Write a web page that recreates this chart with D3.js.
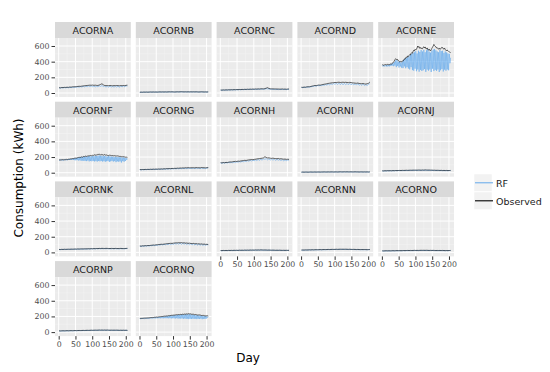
<!DOCTYPE html>
<html>
<head>
<meta charset="utf-8">
<script src="https://cdn.jsdelivr.net/npm/d3@7"></script>
<style>
  body { margin: 0; background: #fff; }
  svg { font-family: "DejaVu Sans", sans-serif; }
</style>
</head>
<body>
<div id="chart"></div>
<script>
// values; most panels one point every 4 days (day 1, 5, ... 205),
// the noisier E, F and Q panels one point every 2 days (day 1, 3, ... 205)
const obsA = [68,66,70,69,72,71,74,72,76,75, 78,80,79,82,84,86,85,88,90,93, 94,96,98,100,99,101,98,100,97,96, 102,110,118,104,96,94,95,93,96,94, 92,95,93,96,94,92,95,93,96,94, 98,100]
const rfA  = [66,62,68,64,70,65,71,66,73,68, 75,70,77,72,80,74,82,76,86,78, 88,80,91,82,90,80,88,78,86,80, 92,84,96,82,88,76,86,74,88,76, 86,74,88,76,86,74,88,78,90,80, 92,88]
const obsB = [10,11,10,12,11,12,11,12,13,12, 13,12,13,12,13,14,13,14,13,14, 13,14,15,14,15,14,13,14,15,14, 15,16,15,14,15,14,15,14,15,14, 15,14,15,14,13,14,15,14,13,14, 13,14]
const rfB  = [9,10,9,11,10,11,10,11,12,11, 12,11,12,11,12,13,12,13,12,13, 12,13,14,13,14,13,12,13,14,13, 14,15,14,13,14,13,14,13,14,13, 14,13,14,13,12,13,14,13,12,13, 12,13]
const obsC = [38,37,39,38,40,39,41,40,42,41, 43,42,44,43,45,44,46,45,47,46, 48,47,49,48,50,49,51,50,52,51, 53,54,52,56,62,68,58,54,52,53, 51,52,50,51,49,50,51,49,50,48, 50,52]
const rfC  = [37,34,38,35,39,36,40,37,41,38, 42,39,43,40,44,41,45,42,46,43, 47,44,48,45,48,44,49,45,50,46, 51,47,50,48,56,52,52,46,50,44, 49,44,48,43,47,43,48,44,48,43, 47,46]
const obsD = [73,72,75,74,78,80,79,84,88,92, 96,94,98,102,100,105,108,112,115,118, 122,125,128,130,132,135,133,136,138,134, 136,138,135,137,134,132,136,133,130,128, 126,124,127,122,120,118,122,116,114,118, 124,140]
const rfD  = [72,68,74,70,76,74,78,78,84,84, 92,86,96,92,96,94,102,98,108,100, 114,104,118,108,122,110,124,108,126,106, 126,104,124,106,122,104,124,104,120,102, 118,100,120,98,112,96,114,94,106,96, 110,120]
const obsE = [362,358,355,360,357,363,359,361,365,360, 366,362,368,372,370,378,385,395,410,425, 438,430,422,428,412,405,398,402,395,400, 410,405,420,435,430,448,460,452,472,465,
  480,490,485,505,515,508,530,545,535,557, 548,560,575,600,585,592,570,580,565,572, 565,582,590,575,588,570,560,575,555,548, 560,545,536,552,570,585,600,620,605,595,
  590,575,578,565,560,572,557,565,570,585, 578,565,560,572,555,545,536,548,540,530, 525,520,515]
const rfE  = [352,340,356,338,350,345,358,336,354,342, 360,340,366,345,372,350,380,342,395,350, 415,330,420,345,398,325,405,338,390,322, 400,318,420,340,438,316,445,330,455,312,
  470,300,488,330,500,292,512,285,520,310, 535,278,505,300,540,272,525,295,548,282, 530,290,552,305,520,270,545,298,560,285, 528,300,515,268,540,310,555,280,562,295,
  545,282,530,300,520,268,548,290,535,305, 540,275,512,298,530,285,518,300,505,290, 500,380,450]
const obsF = [165,163,162,166,164,167,163,166,165,168, 166,170,168,167,172,170,174,176,175,178, 180,176,182,185,183,188,186,190,192,195, 193,198,196,200,203,198,205,208,206,210,
  212,208,214,210,215,218,213,220,216,218, 222,218,225,228,222,230,226,232,228,234, 236,230,228,233,226,230,224,228,232,226, 222,226,220,224,218,222,226,220,217,221,
  218,215,220,216,214,218,212,215,210,212, 208,211,206,204,208,202,205,200,202,198, 200,197,196]
const rfF  = [162,158,164,157,163,160,165,158,166,161, 168,160,170,162,172,163,174,162,176,164, 178,162,182,160,185,158,188,160,190,156, 195,158,198,152,200,155,205,150,202,152,
  208,148,205,155,210,145,212,150,206,146, 214,150,210,144,218,148,212,142,216,150, 220,145,214,150,218,142,210,148,215,140, 210,146,205,150,212,138,208,145,204,150,
  206,142,200,148,204,135,198,145,202,140, 196,145,198,130,192,148,195,140,190,150, 188,165,180]
const obsG = [40,39,41,40,42,41,43,42,44,43, 45,44,46,45,47,46,48,47,50,49, 52,51,53,52,55,54,56,55,58,57, 60,59,61,60,63,62,64,63,62,64, 63,62,65,64,63,62,66,64,63,62, 64,65]
const rfG  = [39,36,40,37,41,38,42,39,43,40, 44,40,45,41,46,42,47,43,48,44, 50,45,51,46,52,47,53,48,55,49, 56,50,57,51,58,52,59,53,58,52, 59,52,60,53,59,52,60,53,58,52, 60,62]
const obsH = [128,125,130,127,132,130,134,138,136,140, 142,145,143,148,146,150,152,155,158,156, 160,163,165,168,166,170,172,175,178,180, 183,185,190,204,195,188,190,185,183,186, 182,180,178,182,176,178,175,172,174,170, 172,170]
const rfH  = [126,120,128,122,130,124,132,126,134,128, 138,130,140,134,142,136,146,140,150,142, 154,146,158,150,160,152,164,156,168,158, 172,160,178,170,180,164,178,162,174,160, 172,158,170,160,166,156,166,152,164,154, 162,160]
const obsI = [7,8,7,8,8,7,8,9,8,8, 9,8,9,9,8,9,9,10,9,9, 10,9,10,10,9,10,10,9,10,11, 10,10,11,10,11,10,10,11,10,10, 11,10,10,9,10,10,9,10,9,10, 9,10]
const rfI  = [6,7,6,7,7,6,7,8,7,7, 8,7,8,8,7,8,8,9,8,8, 9,8,9,9,8,9,9,8,9,10, 9,9,10,9,10,9,9,10,9,9, 10,9,9,8,9,9,8,9,8,9, 8,9]
const obsJ = [24,23,25,24,26,25,26,25,27,26, 28,27,28,29,28,30,29,30,31,30, 31,32,31,33,32,33,32,34,33,32, 34,33,35,34,33,34,32,33,31,32, 30,31,30,29,30,28,29,28,29,27, 28,29]
const rfJ  = [23,21,24,22,25,23,25,23,26,24, 27,25,27,26,27,27,28,27,29,27, 30,28,30,29,31,29,31,29,32,29, 32,29,33,30,31,29,31,28,30,28, 29,27,29,26,29,25,28,25,27,25, 27,27]
const obsK = [38,37,39,38,40,39,40,41,40,42, 41,42,43,42,44,43,44,45,44,46, 45,46,47,46,48,47,49,48,50,49, 51,50,52,51,50,52,51,50,49,51, 50,49,51,50,49,50,51,50,49,50, 51,52]
const rfK  = [37,35,38,36,39,37,39,38,39,39, 40,39,42,39,43,40,43,41,43,42, 44,42,46,42,47,43,48,44,49,45, 50,45,50,46,49,46,50,45,48,45, 49,44,50,45,48,44,50,45,48,45, 50,50]
const obsL = [82,80,84,83,86,85,88,87,90,92, 94,93,96,98,100,102,104,103,106,108, 110,112,114,116,115,118,120,122,121,124, 122,125,120,123,118,120,116,118,114,112, 115,110,112,108,110,106,108,104,106,102, 104,100]
const rfL  = [80,76,82,78,84,80,86,82,88,84, 92,86,94,88,98,92,102,94,104,96, 108,98,112,100,112,102,116,104,118,104, 120,102,118,104,116,100,114,98,112,96, 110,94,108,92,106,90,104,88,102,88, 100,96]
const obsM = [24,23,25,24,25,24,26,25,26,25, 27,26,27,26,28,27,28,27,29,28, 29,28,30,29,30,29,31,30,31,30, 32,31,30,31,30,29,30,29,28,29, 28,27,28,27,28,27,26,27,26,27, 26,27]
const rfM  = [23,21,24,22,24,22,25,23,25,23, 26,24,26,24,27,25,27,25,28,26, 28,26,29,27,29,27,30,27,30,28, 31,28,29,28,29,27,29,27,27,27, 27,25,27,25,27,25,25,25,25,25, 25,26]
const obsN = [30,31,30,32,31,32,33,32,34,33, 34,35,34,35,36,35,36,37,36,37, 38,37,38,39,38,39,40,39,40,41, 40,41,40,41,40,39,40,39,38,39, 38,37,38,37,36,37,36,37,36,35, 36,37]
const rfN  = [29,28,29,29,30,29,32,30,33,30, 33,32,33,32,35,32,35,34,35,34, 37,34,37,36,37,36,39,36,39,37, 39,37,39,37,39,36,39,36,37,36, 37,34,37,34,35,34,35,34,35,33, 35,36]
const obsO = [20,19,20,21,20,21,20,21,22,21, 22,23,22,23,22,23,24,23,24,25, 24,25,24,25,26,25,26,25,26,27, 26,27,26,27,26,25,26,25,26,25, 24,25,24,25,24,25,24,23,24,23, 24,25]
const rfO  = [19,17,19,19,19,19,19,19,21,19, 21,21,21,21,21,21,23,21,23,22, 23,22,23,22,25,22,25,22,25,24, 25,24,25,24,25,23,25,23,25,23, 23,22,23,22,23,22,23,21,23,21, 23,24]
const obsP = [16,15,16,17,16,17,18,17,18,19, 18,19,20,19,20,21,20,21,22,21, 22,23,22,23,24,23,24,25,24,25, 26,25,26,25,26,25,26,25,24,25, 24,25,24,25,24,23,24,23,24,23, 24,22]
const rfP  = [15,13,15,15,15,15,17,15,17,17, 17,17,19,17,19,19,19,19,21,19, 21,21,21,21,23,21,23,22,23,22, 25,22,25,22,25,22,25,22,23,22, 23,22,23,22,23,21,23,21,23,21, 23,21]
const obsQ = [176,175,174,177,176,178,177,179,178,180, 179,181,180,182,183,181,184,186,185,187, 186,188,190,189,191,192,190,193,194,196, 195,197,198,200,199,201,202,204,203,205,
  206,205,208,210,209,211,212,214,213,215, 216,218,217,219,220,222,221,223,224,222, 225,226,224,227,228,226,229,230,228,231, 232,230,233,235,232,230,234,228,230,226,
  228,224,222,225,220,223,218,221,216,219, 215,218,212,214,210,213,208,211,207,209, 206,208,205]
const rfQ  = [174,170,175,171,175,172,176,171,177,173, 178,172,179,173,181,174,182,175,183,174, 185,176,187,175,189,177,188,176,191,178, 193,176,195,178,197,176,199,178,200,177,
  203,178,205,176,207,178,209,175,210,177, 212,176,214,174,216,178,217,172,219,175, 220,172,222,175,223,170,224,174,225,168, 226,172,228,166,225,170,226,168,222,172,
  220,168,218,172,215,166,214,170,212,168, 210,172,208,165,206,170,205,168,203,172, 200,185,196]

const panelNames = ["ACORNA","ACORNB","ACORNC","ACORND","ACORNE","ACORNF","ACORNG","ACORNH","ACORNI",
  "ACORNJ","ACORNK","ACORNL","ACORNM","ACORNN","ACORNO","ACORNP","ACORNQ"]
const observed = [obsA,obsB,obsC,obsD,obsE,obsF,obsG,obsH,obsI,obsJ,obsK,obsL,obsM,obsN,obsO,obsP,obsQ]
const predicted = [rfA,rfB,rfC,rfD,rfE,rfF,rfG,rfH,rfI,rfJ,rfK,rfL,rfM,rfN,rfO,rfP,rfQ]
const seriesNames = ["RF", "Observed"]
const xTicks = [0, 50, 100, 150, 200]
const xMinor = [25, 75, 125, 175]
const yTicks = [0, 200, 400, 600]
const yMinor = [100, 300, 500]
const firstDay = 1
const lastDay = 205

const colors = { RF: "#63a9ec", Observed: "#000000" }

// layout
const dims = {
  width: 550, height: 372,
  left: 55, top: 22,
  colStep: 80.8, rowStep: 79.7,
  panelW: 75.8, stripH: 16, bodyH: 59,
  ncol: 5,
}

const svg = d3.select("#chart").append("svg")
  .attr("width", dims.width)
  .attr("height", dims.height)

const xScale = d3.scaleLinear().domain([-11, 215]).range([0, dims.panelW])
const yScale = d3.scaleLinear().domain([-51, 702]).range([dims.bodyH, 0])

svg.append("defs").append("clipPath").attr("id", "body-clip")
  .append("rect").attr("width", dims.panelW).attr("height", dims.bodyH)

// day of point i in an array of n evenly spaced readings
const dayOf = (i, n) => firstDay + i * (lastDay - firstDay) / (n - 1)
const linePath = vals => d3.line()
  .x((d, i) => xScale(dayOf(i, vals.length)))
  .y(d => yScale(d))(vals)

panelNames.forEach((name, i) => {
  const col = i % dims.ncol
  const row = Math.floor(i / dims.ncol)
  const g = svg.append("g")
    .attr("transform", `translate(${dims.left + col * dims.colStep},${dims.top + row * dims.rowStep})`)

  // strip
  g.append("rect").attr("width", dims.panelW).attr("height", dims.stripH).attr("fill", "#d9d9d9")
  g.append("text")
    .attr("x", dims.panelW / 2).attr("y", dims.stripH / 2 + 0.5)
    .attr("text-anchor", "middle").attr("dominant-baseline", "central")
    .attr("fill", "#1a1a1a").style("font-size", "9.5px")
    .text(name)

  const body = g.append("g").attr("transform", `translate(0,${dims.stripH})`)
  body.append("rect").attr("width", dims.panelW).attr("height", dims.bodyH).attr("fill", "#ebebeb")

  // grid
  xMinor.forEach(t => body.append("line")
    .attr("x1", xScale(t)).attr("x2", xScale(t)).attr("y1", 0).attr("y2", dims.bodyH)
    .attr("stroke", "#f5f5f5").attr("stroke-width", 0.5))
  yMinor.forEach(t => body.append("line")
    .attr("y1", yScale(t)).attr("y2", yScale(t)).attr("x1", 0).attr("x2", dims.panelW)
    .attr("stroke", "#f5f5f5").attr("stroke-width", 0.5))
  xTicks.forEach(t => body.append("line")
    .attr("x1", xScale(t)).attr("x2", xScale(t)).attr("y1", 0).attr("y2", dims.bodyH)
    .attr("stroke", "#fff").attr("stroke-width", 1))
  yTicks.forEach(t => body.append("line")
    .attr("y1", yScale(t)).attr("y2", yScale(t)).attr("x1", 0).attr("x2", dims.panelW)
    .attr("stroke", "#fff").attr("stroke-width", 1))

  const lines = body.append("g").attr("clip-path", "url(#body-clip)")
  lines.append("path")
    .attr("d", linePath(predicted[i]))
    .attr("fill", "none").attr("stroke", colors.RF).attr("stroke-width", 0.6)
  lines.append("path")
    .attr("d", linePath(observed[i]))
    .attr("fill", "none").attr("stroke", colors.Observed).attr("stroke-width", 0.6)

  // axes
  if (col === 0) {
    const yAxis = body.append("g")
      .call(d3.axisLeft(yScale).tickValues(yTicks).tickSize(3.5).tickPadding(2))
    yAxis.select(".domain").remove()
    yAxis.selectAll("line").attr("stroke", "#333")
    yAxis.selectAll("text").attr("fill", "#4d4d4d").style("font-size", "7.9px")
      .style("font-family", "DejaVu Sans")
  }
  if (i + dims.ncol >= panelNames.length) {
    const xAxis = body.append("g")
      .attr("transform", `translate(0,${dims.bodyH})`)
      .call(d3.axisBottom(xScale).tickValues(xTicks).tickSize(3.5).tickPadding(1.5))
    xAxis.select(".domain").remove()
    xAxis.selectAll("line").attr("stroke", "#333")
    xAxis.selectAll("text").attr("fill", "#4d4d4d").style("font-size", "7.8px")
      .style("font-family", "DejaVu Sans")
  }
})

// axis titles
svg.append("text")
  .attr("transform", "translate(19,178) rotate(-90)")
  .attr("text-anchor", "middle").attr("dominant-baseline", "central")
  .style("font-size", "12px").text("Consumption (kWh)")
svg.append("text")
  .attr("x", 248).attr("y", 358)
  .attr("text-anchor", "middle").attr("dominant-baseline", "central")
  .style("font-size", "12px").text("Day")

// legend
const legend = svg.append("g").attr("transform", "translate(474,174)")
seriesNames.forEach((s, i) => {
  const k = legend.append("g").attr("transform", `translate(0,${i * 18})`)
  k.append("rect").attr("width", 18).attr("height", 17.5)
    .attr("fill", "#f2f2f2").attr("stroke", "#fff").attr("stroke-width", 0.5)
  k.append("line").attr("x1", 1).attr("x2", 19).attr("y1", 8.8).attr("y2", 8.8)
    .attr("stroke", colors[s]).attr("stroke-width", s === "RF" ? 1 : 1.1)
  k.append("text").attr("x", 22).attr("y", 9)
    .attr("dominant-baseline", "central").attr("fill", "#1a1a1a")
    .style("font-size", "9.5px").text(s)
})
</script>
</body>
</html>
